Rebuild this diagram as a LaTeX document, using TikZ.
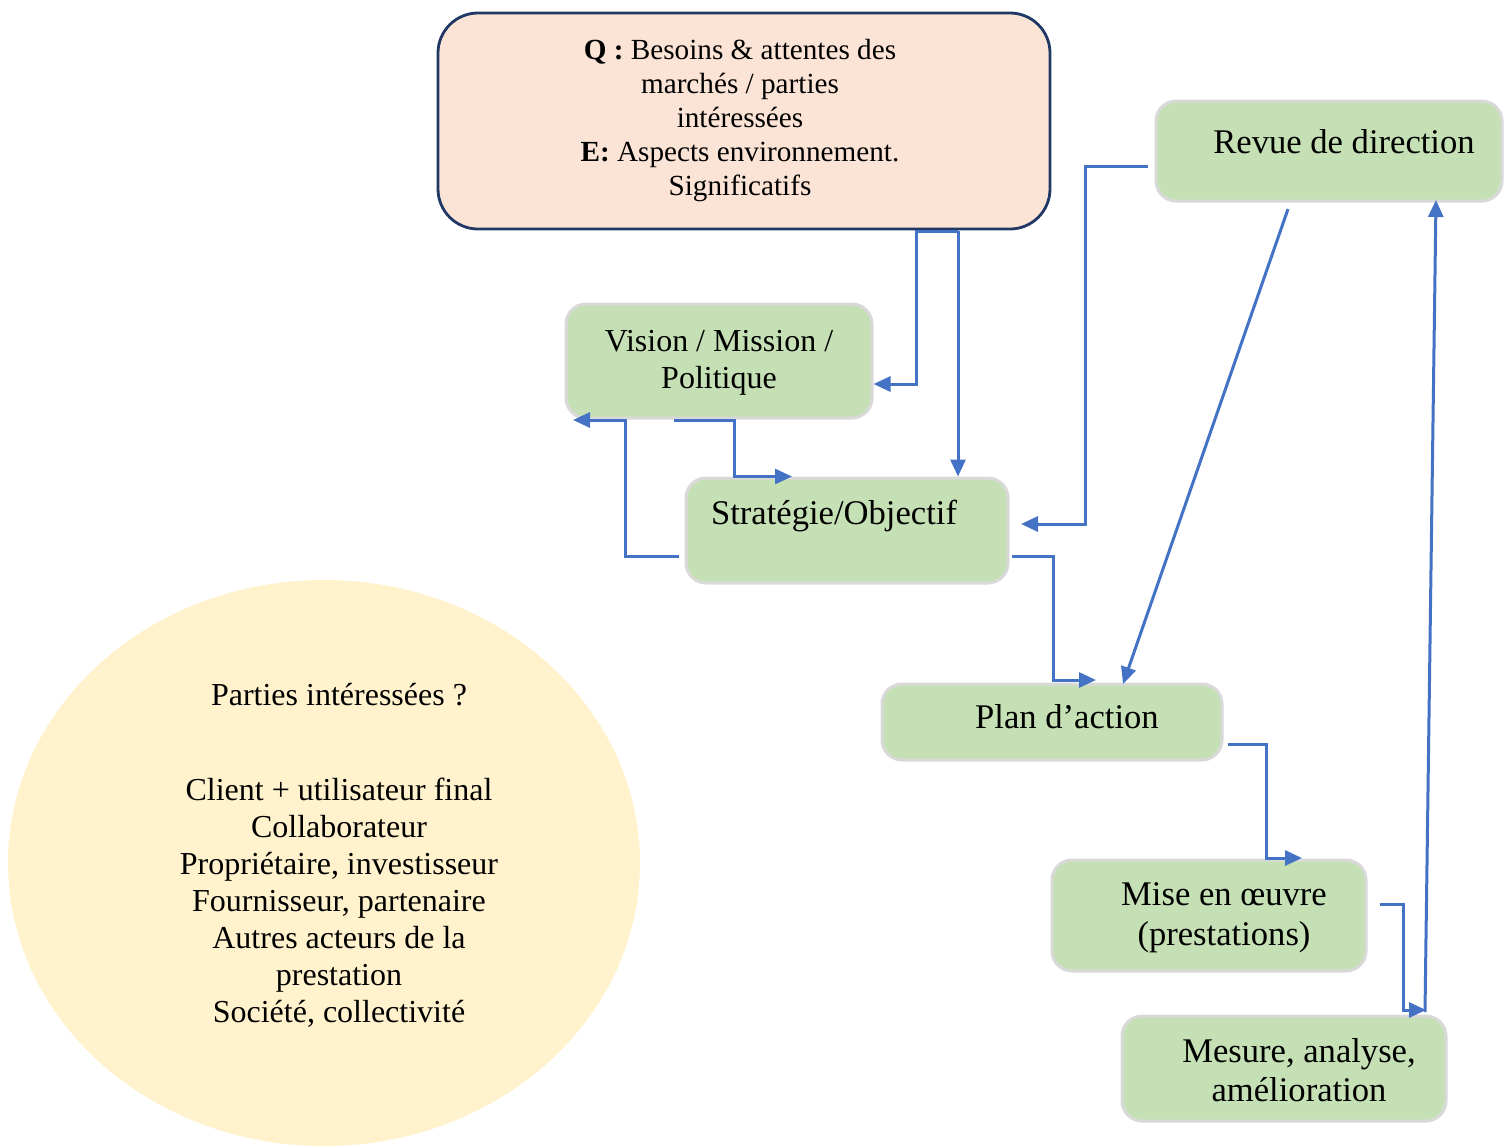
\documentclass[tikz,border=0pt]{standalone}
\usepackage{fontspec}
\setmainfont{Liberation Serif}
\usetikzlibrary{arrows.meta,shapes.geometric}
\definecolor{boxgreen}{HTML}{C5E0B4}
\definecolor{boxedge}{HTML}{D9D9D9}
\definecolor{peach}{HTML}{FBE3D6}
\definecolor{navy}{HTML}{1F3864}
\definecolor{cream}{HTML}{FFF2CC}
\definecolor{flow}{HTML}{4472C4}
\begin{document}
\begin{tikzpicture}[x=0.5pt,y=-0.5pt,
  stage/.style={draw=boxedge,fill=boxgreen,line width=1.5pt,rounded corners=10pt,inner sep=0pt},
  stagetext/.style={font=\fontsize{17.3}{18.5}\selectfont,align=center,inner sep=0pt,anchor=base},
  conn/.style={draw=flow,line width=1.5pt,-{Triangle[length=8.5pt,width=7.5pt]}}]
\useasboundingbox (0,0) rectangle (1511,1147);

% context box (text anchored on the baseline of its last line)
\node[draw=navy,fill=peach,line width=1.4pt,rounded corners=20pt,inner sep=0pt,
      minimum width=306pt,minimum height=108pt] (top) at (744,121) {};
\node[font=\fontsize{14.6}{16.9}\selectfont,align=center,inner sep=0pt,anchor=base] (toptext) at (740,195)
  {\textbf{Q :} Besoins \& attentes des\\marchés / parties\\intéressées\\\textbf{E:} Aspects environnement.\\Significatifs};

% stakeholders
\node[ellipse,fill=cream,inner sep=0pt,minimum width=316pt,minimum height=283pt] (circ) at (324,863) {};
\node[font=\fontsize{16}{18.5}\selectfont,inner sep=0pt,anchor=base] (circhead) at (339,705) {Parties intéressées ?};
\node[font=\fontsize{16}{18.5}\selectfont,align=center,inner sep=0pt,anchor=base] (circlist) at (339,1022)
  {Client + utilisateur final\\Collaborateur\\Propriétaire, investisseur\\Fournisseur, partenaire\\Autres acteurs de la\\prestation\\Société, collectivité};

% process stages
\node[stage,minimum width=153pt,minimum height=57pt] (vision) at (719,361) {};
\node[stagetext,font=\fontsize{16}{18.5}\selectfont] at (719,388) {Vision / Mission /\\Politique};

\node[stage,minimum width=161pt,minimum height=52.5pt] (strat) at (847,530.5) {};
\node[stagetext] at (834,524) {Stratégie/Objectif};

\node[stage,minimum width=173pt,minimum height=50pt] (revue) at (1329,151) {};
\node[stagetext] at (1344,153) {Revue de direction};

\node[stage,minimum width=170pt,minimum height=38pt] (plan) at (1052,722) {};
\node[stagetext] at (1067,728) {Plan d’action};

\node[stage,minimum width=157pt,minimum height=55.5pt] (mise) at (1209,915.5) {};
\node[stagetext,font=\fontsize{17.3}{20}\selectfont] at (1224,945) {Mise en œuvre\\(prestations)};

\node[stage,minimum width=162pt,minimum height=52.5pt] (mesure) at (1284,1068.5) {};
\node[stagetext,font=\fontsize{17.3}{19.5}\selectfont] at (1299,1101) {Mesure, analyse,\\amélioration};

% free ends of the connectors
\coordinate (topa) at (958,231);
\coordinate (topb) at (916,231);
\coordinate (visout) at (674,420);
\coordinate (stratl) at (679,556);
\coordinate (stratr) at (1012,556);
\coordinate (revl) at (1148,166);
\coordinate (revb) at (1288,209);
\coordinate (planr) at (1228,744);
\coordinate (miser) at (1380,904);
\coordinate (mesin) at (1426,1010);

% connectors
\draw[conn] (topa) -- (topb) -- (916,384) -- (vision.east |- 0,384);
\draw[conn] (topa) -- (topa |- strat.north);
\draw[conn] (visout) -- (734,420) -- (734,0 |- strat.north) -- (792,0 |- strat.north);
\draw[conn] (stratl) -- (625,556) -- (625,420) -- (573,420);
\draw[conn] (revl) -- (1085,166) -- (1085,524) -- (1021,524);
\draw[conn] (stratr) -- (1053,556) -- (1053,680) -- (1096,680);
\draw[conn] (revb) -- (1123,684);
\draw[conn] (planr) -- (1266,744) -- (1266,858) -- (1302,858);
\draw[conn] (miser) -- (1403,904) -- (1403,1010) -- (mesin);
\draw[conn] (1425,1012) -- (1436,200);
\end{tikzpicture}
\end{document}
